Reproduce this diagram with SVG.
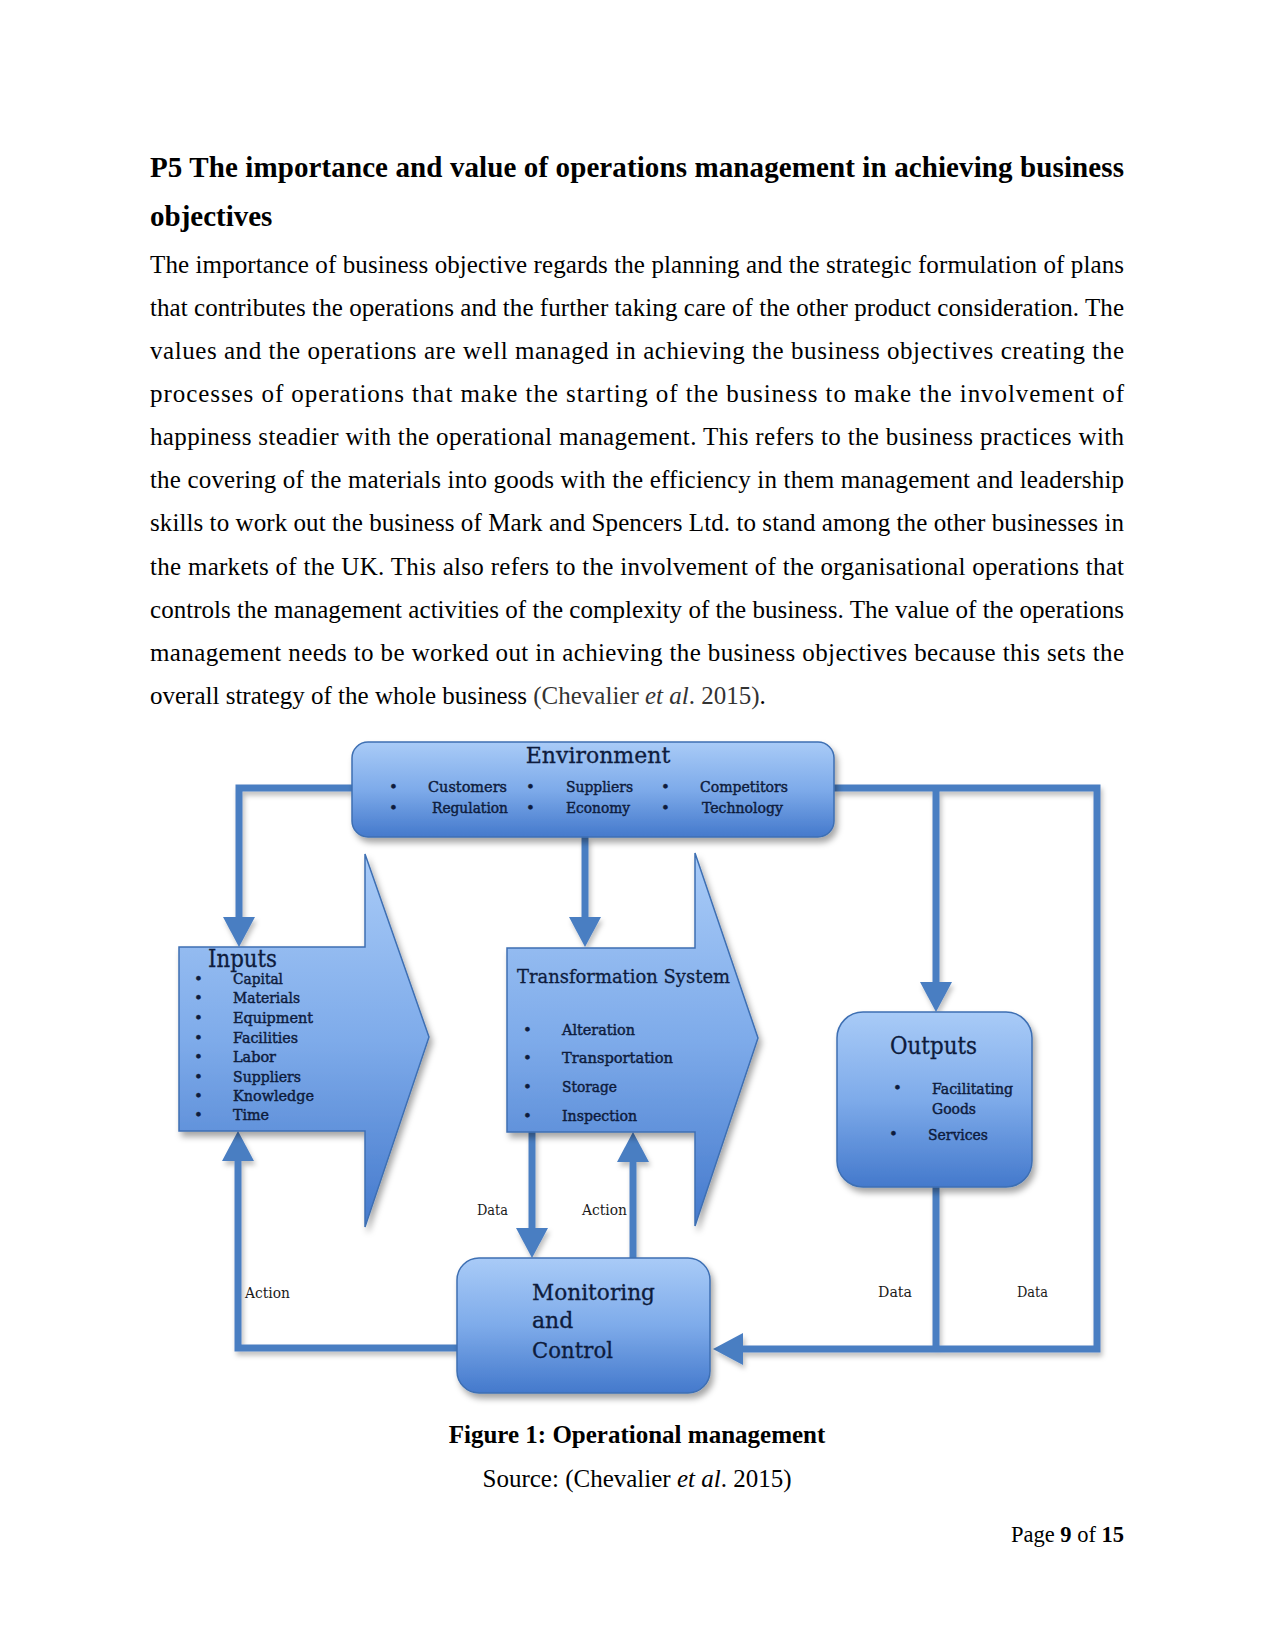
<svg xmlns="http://www.w3.org/2000/svg" width="1275" height="1650" viewBox="0 0 1275 1650">
<style>
.h{font-family:"Liberation Serif","Times New Roman",serif;font-size:29px;font-weight:bold;fill:#000}
.b{font-family:"Liberation Serif","Times New Roman",serif;font-size:25px;fill:#000}
.cap{font-family:"Liberation Serif","Times New Roman",serif;font-size:25px;fill:#000}
.pg{font-family:"Liberation Serif","Times New Roman",serif;font-size:22.5px;fill:#000}
.t{font-family:"DejaVu Serif",serif;fill:#0e1c3d;stroke:#0e1c3d;stroke-width:0.3}
.hd{font-size:22px}
.it{font-size:15px;stroke-width:0.45}
.lbl{font-family:"DejaVu Serif",serif;font-size:14px;fill:#1a1a1a}
.node{fill:url(#g);stroke:#3e6fb3;stroke-width:1.5;filter:url(#sh)}
.con{fill:none;stroke:#4a7ec2;stroke-width:7}
</style>
<defs>
<linearGradient id="g" x1="0" y1="0" x2="0" y2="1">
<stop offset="0" stop-color="#a9cbf7"/>
<stop offset="0.5" stop-color="#7eabea"/>
<stop offset="1" stop-color="#4479cc"/>
</linearGradient>
<filter id="sh" x="-10%" y="-10%" width="130%" height="130%">
<feDropShadow dx="3" dy="5" stdDeviation="3" flood-color="#000" flood-opacity="0.35"/>
</filter>
<filter id="sh2" x="-10%" y="-10%" width="130%" height="130%">
<feDropShadow dx="2" dy="4" stdDeviation="2.5" flood-color="#000" flood-opacity="0.25"/>
</filter>
<marker id="ah" markerUnits="userSpaceOnUse" markerWidth="32" markerHeight="32" viewBox="0 0 30 32" refX="8" refY="16" orient="auto">
<path d="M0,0 L30,16 L0,32 z" fill="#4a7ec2"/>
</marker>
</defs>
<rect width="1275" height="1650" fill="#fff"/>

<g id="text-body">
<text class="h" x="150" y="177" textLength="974" lengthAdjust="spacing">P5 The importance and value of operations management in achieving business</text>
<text class="h" x="150" y="226">objectives</text>
<text class="b" x="150" y="273" textLength="974" lengthAdjust="spacing">The importance of business objective regards the planning and the strategic formulation of plans</text>
<text class="b" x="150" y="316" textLength="974" lengthAdjust="spacing">that contributes the operations and the further taking care of the other product consideration. The</text>
<text class="b" x="150" y="359" textLength="974" lengthAdjust="spacing">values and the operations are well managed in achieving the business objectives creating the</text>
<text class="b" x="150" y="402" textLength="974" lengthAdjust="spacing">processes of operations that make the starting of the business to make the involvement of</text>
<text class="b" x="150" y="445" textLength="974" lengthAdjust="spacing">happiness steadier with the operational management. This refers to the business practices with</text>
<text class="b" x="150" y="488" textLength="974" lengthAdjust="spacing">the covering of the materials into goods with the efficiency in them management and leadership</text>
<text class="b" x="150" y="531" textLength="974" lengthAdjust="spacing">skills to work out the business of Mark and Spencers Ltd. to stand among the other businesses in</text>
<text class="b" x="150" y="575" textLength="974" lengthAdjust="spacing">the markets of the UK. This also refers to the involvement of the organisational operations that</text>
<text class="b" x="150" y="618" textLength="974" lengthAdjust="spacing">controls the management activities of the complexity of the business. The value of the operations</text>
<text class="b" x="150" y="661" textLength="974" lengthAdjust="spacing">management needs to be worked out in achieving the business objectives because this sets the</text>
<text class="b" x="150" y="704">overall strategy of the whole business <tspan fill="#333">(Chevalier <tspan font-style="italic">et al</tspan>. 2015)</tspan>.</text>
</g>

<g id="connectors" filter="url(#sh2)">
<path class="con" d="M352,788 H239 V925" marker-end="url(#ah)"/>
<path class="con" d="M585,837 V925" marker-end="url(#ah)"/>
<path class="con" d="M834,788 H1097 V1349 H735" marker-end="url(#ah)"/>
<path class="con" d="M936,788 V990" marker-end="url(#ah)"/>
<path class="con" d="M936,1187 V1349"/>
<path class="con" d="M532,1132 V1236" marker-end="url(#ah)"/>
<path class="con" d="M633,1258 V1154" marker-end="url(#ah)"/>
<path class="con" d="M457,1348 H238 V1153" marker-end="url(#ah)"/>
</g>

<g id="node-environment">
<rect class="node" x="352" y="742" width="482" height="95" rx="16"/>
<text class="t hd" x="598" y="763" text-anchor="middle">Environment</text>
<g class="t it">
<text x="389" y="792">•</text><text x="428" y="792" textLength="79" lengthAdjust="spacingAndGlyphs">Customers</text>
<text x="389" y="813">•</text><text x="432" y="813" textLength="76" lengthAdjust="spacingAndGlyphs">Regulation</text>
<text x="526" y="792">•</text><text x="566" y="792" textLength="67" lengthAdjust="spacingAndGlyphs">Suppliers</text>
<text x="526" y="813">•</text><text x="566" y="813" textLength="64" lengthAdjust="spacingAndGlyphs">Economy</text>
<text x="661" y="792">•</text><text x="700" y="792" textLength="88" lengthAdjust="spacingAndGlyphs">Competitors</text>
<text x="661" y="813">•</text><text x="702" y="813" textLength="81" lengthAdjust="spacingAndGlyphs">Technology</text>
</g>
</g>

<g id="node-inputs">
<polygon class="node" points="179,947 365,947 365,854 429,1037 365,1227 365,1131 179,1131"/>
<text class="t" x="208" y="967" font-size="24" textLength="69" lengthAdjust="spacingAndGlyphs">Inputs</text>
<g class="t it">
<text x="194" y="984">•</text><text x="233" y="984" textLength="50" lengthAdjust="spacingAndGlyphs">Capital</text>
<text x="194" y="1003">•</text><text x="233" y="1003" textLength="67" lengthAdjust="spacingAndGlyphs">Materials</text>
<text x="194" y="1023">•</text><text x="233" y="1023" textLength="80" lengthAdjust="spacingAndGlyphs">Equipment</text>
<text x="194" y="1043">•</text><text x="233" y="1043" textLength="65" lengthAdjust="spacingAndGlyphs">Facilities</text>
<text x="194" y="1062">•</text><text x="233" y="1062" textLength="43" lengthAdjust="spacingAndGlyphs">Labor</text>
<text x="194" y="1082">•</text><text x="233" y="1082" textLength="68" lengthAdjust="spacingAndGlyphs">Suppliers</text>
<text x="194" y="1101">•</text><text x="233" y="1101" textLength="81" lengthAdjust="spacingAndGlyphs">Knowledge</text>
<text x="194" y="1120">•</text><text x="233" y="1120" textLength="36" lengthAdjust="spacingAndGlyphs">Time</text>
</g>
</g>

<g id="node-transformation">
<polygon class="node" points="507,948 695,948 695,853 758,1038 695,1226 695,1132 507,1132"/>
<text class="t" x="517" y="983" font-size="19" textLength="213" lengthAdjust="spacingAndGlyphs">Transformation System</text>
<g class="t it">
<text x="523" y="1035">•</text><text x="562" y="1035" textLength="73" lengthAdjust="spacingAndGlyphs">Alteration</text>
<text x="523" y="1063">•</text><text x="562" y="1063" textLength="111" lengthAdjust="spacingAndGlyphs">Transportation</text>
<text x="523" y="1092">•</text><text x="562" y="1092" textLength="55" lengthAdjust="spacingAndGlyphs">Storage</text>
<text x="523" y="1121">•</text><text x="562" y="1121" textLength="75" lengthAdjust="spacingAndGlyphs">Inspection</text>
</g>
</g>

<g id="node-outputs">
<rect class="node" x="837" y="1012" width="195" height="175" rx="26"/>
<text class="t" x="890" y="1054" font-size="24" textLength="87" lengthAdjust="spacingAndGlyphs">Outputs</text>
<g class="t it">
<text x="893" y="1093">•</text><text x="932" y="1094" textLength="81" lengthAdjust="spacingAndGlyphs">Facilitating</text>
<text x="932" y="1114" textLength="44" lengthAdjust="spacingAndGlyphs">Goods</text>
<text x="889" y="1139">•</text><text x="928" y="1140" textLength="60" lengthAdjust="spacingAndGlyphs">Services</text>
</g>
</g>

<g id="node-monitoring">
<rect class="node" x="457" y="1258" width="253" height="135" rx="22"/>
<text class="t hd" x="532" y="1300" textLength="123" lengthAdjust="spacingAndGlyphs">Monitoring</text>
<text class="t hd" x="532" y="1328">and</text>
<text class="t hd" x="532" y="1358" textLength="81" lengthAdjust="spacingAndGlyphs">Control</text>
</g>

<g id="labels">
<text class="lbl" x="477" y="1215" textLength="31" lengthAdjust="spacingAndGlyphs">Data</text>
<text class="lbl" x="582" y="1215" textLength="45" lengthAdjust="spacingAndGlyphs">Action</text>
<text class="lbl" x="245" y="1298" textLength="45" lengthAdjust="spacingAndGlyphs">Action</text>
<text class="lbl" x="878" y="1297" textLength="34" lengthAdjust="spacingAndGlyphs">Data</text>
<text class="lbl" x="1017" y="1297" textLength="31" lengthAdjust="spacingAndGlyphs">Data</text>
</g>

<g id="caption">
<text class="cap" x="637" y="1443" text-anchor="middle" font-weight="bold">Figure 1: Operational management</text>
<text class="cap" x="637" y="1487" text-anchor="middle">Source: (Chevalier <tspan font-style="italic">et al</tspan>. 2015)</text>
<text class="pg" x="1124" y="1542" text-anchor="end">Page <tspan font-weight="bold">9</tspan> of <tspan font-weight="bold">15</tspan></text>
</g>
</svg>
